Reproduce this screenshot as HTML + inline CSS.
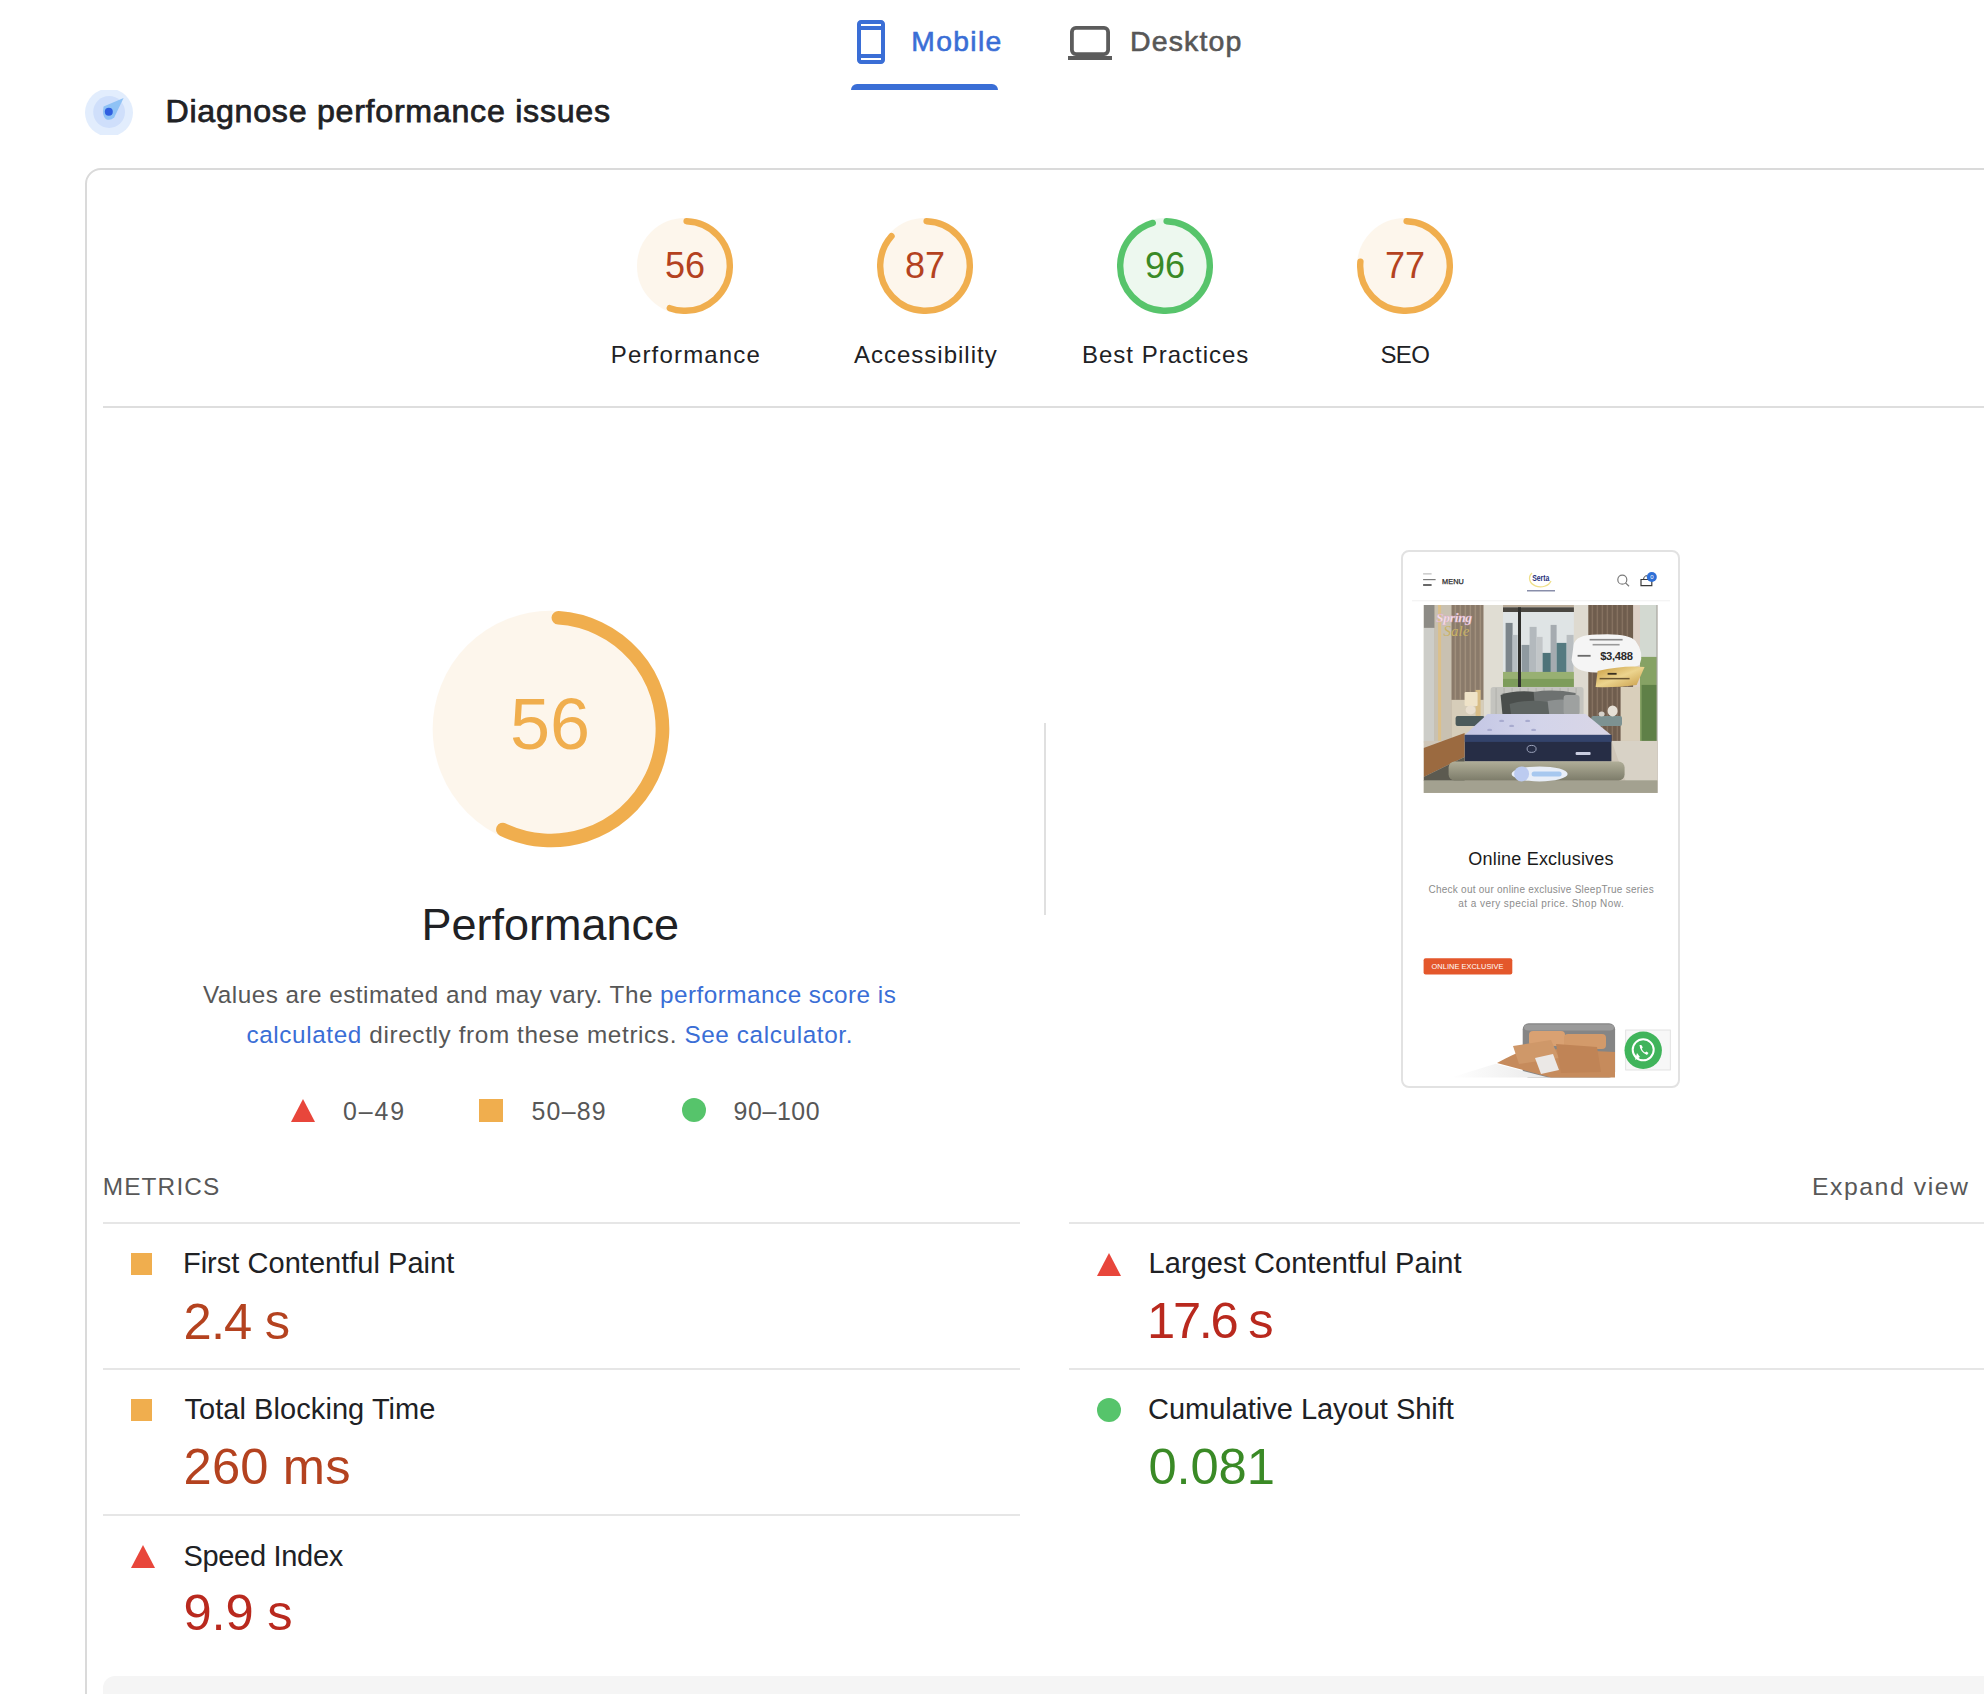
<!DOCTYPE html>
<html><head><meta charset="utf-8">
<style>
*{box-sizing:border-box;margin:0;padding:0}
html,body{width:1984px;height:1694px;overflow:hidden;background:#fff}
body{position:relative;font-family:"Liberation Sans",sans-serif;color:#202124}
.a{position:absolute;white-space:nowrap;line-height:1}
.hr{position:absolute;height:2px;background:#e6e6e6}
.blue{color:#3a6ed6}
.gray{color:#575757}
.avg2{color:#b4421f}
.fail2{color:#b9291e}
.pass2{color:#3a8a26}
.lbl{width:200px;text-align:center;top:342.7px;font-size:24px}
.gn{width:96px;text-align:center;top:247.8px;font-size:36px}
.mt{font-size:29px}
.mv{font-size:50.7px}
</style></head><body>

<!-- Tabs -->
<svg class="a" style="left:847px;top:18px" width="48" height="48" viewBox="0 0 24 24"><path fill="#3a6ed6" d="M17 1.01L7 1c-1.1 0-2 .9-2 2v18c0 1.1.9 2 2 2h10c1.1 0 2-.9 2-2V3c0-1.1-.9-1.99-2-1.99zM17 21H7v-1h10v1zm0-3H7V6h10v12zm0-14H7V3h10v1z"/></svg>
<div class="a blue" style="left:911.3px;top:26.84px;font-size:28.3px;letter-spacing:1.33px;-webkit-text-stroke:0.6px #3a6ed6">Mobile</div>
<div class="a" style="left:851px;top:84px;width:147px;height:6px;background:#3a6ed6;border-radius:6px 6px 0 0"></div>

<svg class="a" style="left:1066px;top:24px" width="48" height="40" viewBox="0 0 48 40"><rect x="5.9" y="3.9" width="36.2" height="26.2" rx="4" fill="none" stroke="#5c5c5c" stroke-width="3.8"/><rect x="2" y="32" width="44" height="4" fill="#5c5c5c"/></svg>
<div class="a gray" style="left:1130.1px;top:26.87px;font-size:28.5px;letter-spacing:1.1px;-webkit-text-stroke:0.6px #575757">Desktop</div>

<!-- Heading -->
<svg class="a" style="left:85px;top:90px" width="48" height="45.3" viewBox="0 0 48 45.3">
<circle cx="24" cy="22.6" r="24" fill="#e2edfd"/>
<circle cx="24.1" cy="22" r="15.9" fill="#cfdffb"/>
<path d="M18.6 16.6 L38.6 8.1 L29.2 27.5 Q 25.5 31 21 29.2 Q 16.5 26 18.6 16.6Z" fill="#8fc2f5"/>
<circle cx="23.8" cy="21.8" r="4" fill="#2f5fe0"/>
</svg>
<div class="a" style="left:165.5px;top:95.4px;font-size:32.2px;letter-spacing:0.72px;-webkit-text-stroke:0.75px #202124">Diagnose performance issues</div>

<!-- Card -->
<div class="a" style="left:85px;top:168px;width:2000px;height:1600px;border:2px solid #dadada;border-radius:16px"></div>

<!-- Gauges small -->
<svg class="a" style="left:637px;top:218px" width="96" height="96" viewBox="0 0 120 120"><circle r="56" cx="60" cy="60" stroke-width="8" fill="#f0ae4e" stroke="#f0ae4e" opacity="0.1"/><circle r="56" cx="60" cy="60" stroke-width="8" fill="none" stroke="#f0ae4e" stroke-linecap="round" style="transform-origin:50% 50%;transform:rotate(-87.95deg);stroke-dasharray:193.04 351.86"/></svg>
<svg class="a" style="left:877px;top:218px" width="96" height="96" viewBox="0 0 120 120"><circle r="56" cx="60" cy="60" stroke-width="8" fill="#f0ae4e" stroke="#f0ae4e" opacity="0.1"/><circle r="56" cx="60" cy="60" stroke-width="8" fill="none" stroke="#f0ae4e" stroke-linecap="round" style="transform-origin:50% 50%;transform:rotate(-87.95deg);stroke-dasharray:302.12 351.86"/></svg>
<svg class="a" style="left:1117px;top:218px" width="96" height="96" viewBox="0 0 120 120"><circle r="56" cx="60" cy="60" stroke-width="8" fill="#57c46b" stroke="#57c46b" opacity="0.1"/><circle r="56" cx="60" cy="60" stroke-width="8" fill="none" stroke="#57c46b" stroke-linecap="round" style="transform-origin:50% 50%;transform:rotate(-87.95deg);stroke-dasharray:333.78 351.86"/></svg>
<svg class="a" style="left:1357px;top:218px" width="96" height="96" viewBox="0 0 120 120"><circle r="56" cx="60" cy="60" stroke-width="8" fill="#f0ae4e" stroke="#f0ae4e" opacity="0.1"/><circle r="56" cx="60" cy="60" stroke-width="8" fill="none" stroke="#f0ae4e" stroke-linecap="round" style="transform-origin:50% 50%;transform:rotate(-87.95deg);stroke-dasharray:266.93 351.86"/></svg>

<div class="a avg2 gn" style="left:637px">56</div>
<div class="a avg2 gn" style="left:877px">87</div>
<div class="a pass2 gn" style="left:1117px">96</div>
<div class="a avg2 gn" style="left:1357px">77</div>

<div class="a lbl" style="left:585.9px;letter-spacing:1.17px">Performance</div>
<div class="a lbl" style="left:825.8px;letter-spacing:1px">Accessibility</div>
<div class="a lbl" style="left:1065.7px;letter-spacing:1.0px">Best Practices</div>
<div class="a lbl" style="left:1304.9px;letter-spacing:-0.6px">SEO</div>

<div class="hr" style="left:103px;top:406px;width:1900px;background:#dedede"></div>

<!-- Big gauge -->
<svg class="a" style="left:431.5px;top:610px" width="238" height="238" viewBox="0 0 120 120"><circle r="56.2" cx="60" cy="60" stroke-width="6.9" fill="#f0ae4e" stroke="#f0ae4e" opacity="0.1"/><circle r="56.2" cx="60" cy="60" stroke-width="6.9" fill="none" stroke="#f0ae4e" stroke-linecap="round" style="transform-origin:50% 50%;transform:rotate(-86.2deg);stroke-dasharray:197.7 353.1"/></svg>
<div class="a" style="left:431px;width:238px;text-align:center;top:687.94px;font-size:72px;color:#f0ae4e">56</div>
<div class="a" style="left:300.2px;width:500px;text-align:center;top:902.3px;font-size:45px">Performance</div>

<div class="a" style="left:1044px;top:723px;width:2px;height:192px;background:#e0e0e0"></div>

<div class="a gray" style="left:203px;top:982.9px;font-size:24.3px;letter-spacing:0.466px">Values are estimated and may vary. The <span class="blue">performance score is</span></div>
<div class="a gray" style="left:246.4px;top:1022.8px;font-size:24.3px;letter-spacing:0.62px"><span class="blue">calculated</span> directly from these metrics. <span class="blue">See calculator.</span></div>

<!-- legend -->
<svg class="a" style="left:291px;top:1098.5px" width="24" height="23" viewBox="0 0 24 23"><path d="M12 0 L24 23 L0 23Z" fill="#e8463b"/></svg>
<div class="a gray" style="left:343px;top:1098.52px;font-size:24.9px;letter-spacing:1.9px">0–49</div>
<div class="a" style="left:479px;top:1098.5px;width:24px;height:23px;background:#f0ae4e"></div>
<div class="a gray" style="left:531.5px;top:1098.52px;font-size:24.9px;letter-spacing:1.25px">50–89</div>
<div class="a" style="left:682px;top:1098px;width:24px;height:24px;border-radius:50%;background:#56c46b"></div>
<div class="a gray" style="left:733.6px;top:1098.52px;font-size:24.9px;letter-spacing:0.6px">90–100</div>

<!-- screenshot thumbnail -->
<svg class="a" style="left:1401px;top:550px" width="279" height="538" viewBox="0 0 279 538">
<defs>
<linearGradient id="wallL" x1="0" x2="1" y1="0" y2="0">
<stop offset="0" stop-color="#b9b2a8"/><stop offset="0.5" stop-color="#a88f78"/><stop offset="1" stop-color="#b79f86"/>
</linearGradient>
<linearGradient id="sky" x1="0" x2="0" y1="0" y2="1">
<stop offset="0" stop-color="#cfd9e0"/><stop offset="1" stop-color="#dfe4e2"/>
</linearGradient>
<linearGradient id="mtop" x1="0" x2="1" y1="0" y2="0">
<stop offset="0" stop-color="#aeb0d4"/><stop offset="0.6" stop-color="#c9c9e2"/><stop offset="1" stop-color="#d8d6e6"/>
</linearGradient>
<linearGradient id="gold" x1="0" x2="1" y1="0" y2="1">
<stop offset="0" stop-color="#e8cf8a"/><stop offset="1" stop-color="#b88d3a"/>
</linearGradient>
<clipPath id="tc"><rect x="1" y="1" width="277" height="536" rx="7"/></clipPath>
</defs>
<rect x="1" y="1" width="277" height="536" rx="7" fill="#fff" stroke="#e2e2e2" stroke-width="2"/>
<g clip-path="url(#tc)">
<!-- header -->
<rect x="22.1" y="23.4" width="8.5" height="1" fill="#b0b0b0"/>
<rect x="22.1" y="29" width="12.5" height="1.2" fill="#7a7a7a"/>
<rect x="22.1" y="34.3" width="8.5" height="1.4" fill="#2a2a2a"/>
<text x="41" y="33.7" font-family="Liberation Sans" font-size="7.3" fill="#2a2a2a" letter-spacing="0.1" stroke="#2a2a2a" stroke-width="0.25">MENU</text>
<path d="M131 23 A 11 8.5 0 1 0 150 31" fill="none" stroke="#efe08a" stroke-width="1.3"/>
<text x="139.8" y="31.2" text-anchor="middle" font-family="Liberation Sans" font-weight="bold" font-size="9.6" fill="#1f2f7a" transform="translate(139.8 0) scale(0.72 1) translate(-139.8 0)">Serta</text>
<rect x="126" y="40.2" width="28" height="1.2" fill="#6d7396"/>
<circle cx="221.3" cy="29.7" r="4.5" fill="none" stroke="#7a7a7a" stroke-width="1.2"/>
<path d="M224.5 32.9 L228 36.3" stroke="#7a7a7a" stroke-width="1.3"/>
<path d="M240 35.6 L240 29.5 L250.8 29.5 L250.8 35.6Z" fill="none" stroke="#3a3a3a" stroke-width="1.2"/>
<path d="M242.5 29.5 Q 243 25.5 246 25.8" fill="none" stroke="#3a3a3a" stroke-width="1"/>
<circle cx="250.8" cy="27" r="5" fill="#2f6fd6"/>
<text x="250.8" y="29.3" text-anchor="middle" font-family="Liberation Sans" font-size="6" fill="#fff">0</text>
<rect x="11" y="50.3" width="258" height="1" fill="#f0f0f0"/>

<!-- hero image -->
<svg x="22.6" y="54.9" width="234" height="188" viewBox="0 0 234 188" preserveAspectRatio="none">
<defs>
<linearGradient id="g2" x1="0" x2="1" y1="0" y2="1"><stop offset="0" stop-color="#c99a3c"/><stop offset="0.5" stop-color="#ecd48e"/><stop offset="1" stop-color="#c79a45"/></linearGradient>
<linearGradient id="mt2" x1="0" x2="1" y1="0" y2="0"><stop offset="0" stop-color="#c3c6e4"/><stop offset="0.5" stop-color="#d3d4ea"/><stop offset="1" stop-color="#d9d6e6"/></linearGradient>
<linearGradient id="base2" x1="0" x2="0" y1="0" y2="1"><stop offset="0" stop-color="#b0ae98"/><stop offset="1" stop-color="#7d7c6a"/></linearGradient>
</defs>
<rect width="234" height="188" fill="#b9ab98"/>
<!-- left wall -->
<rect x="0" y="0" width="11" height="23" fill="#8d8b85"/>
<rect x="0" y="23" width="11" height="115" fill="#cdcdc8"/>
<rect x="11" y="0" width="17" height="140" fill="#c9c1b1"/>
<rect x="14.5" y="0" width="3" height="140" fill="#dcc08a"/>
<rect x="28" y="0" width="32" height="95" fill="#8a7a6a"/>
<g fill="#a08f7c"><rect x="31" y="0" width="1.5" height="95"/><rect x="36" y="0" width="1.5" height="95"/><rect x="41" y="0" width="1.5" height="95"/><rect x="46" y="0" width="1.5" height="95"/><rect x="51" y="0" width="1.5" height="95"/><rect x="56" y="0" width="1.5" height="95"/></g>
<rect x="28" y="95" width="32" height="45" fill="#d6cdb9"/>
<rect x="52" y="85" width="5" height="55" fill="#d8bd86"/>
<rect x="60" y="0" width="19.4" height="140" fill="#e0ddd3"/>
<!-- window -->
<rect x="79.4" y="2.4" width="71" height="80" fill="#dfe4e5"/>
<rect x="79.4" y="2.4" width="71" height="4.7" fill="#4a4741"/>
<rect x="82" y="18" width="7" height="55" fill="#7c858b"/>
<rect x="89" y="30" width="5" height="43" fill="#b7bec2"/>
<rect x="98" y="40" width="8" height="33" fill="#8f9aa0"/>
<rect x="106" y="22" width="7" height="51" fill="#b3b9bd"/>
<rect x="113" y="32" width="6" height="41" fill="#c2c6c8"/>
<rect x="119" y="48" width="11" height="25" fill="#4e7379"/>
<rect x="127" y="20" width="6" height="53" fill="#a5abb0"/>
<rect x="133" y="38" width="10" height="35" fill="#557a80"/>
<rect x="143" y="30" width="7" height="43" fill="#b9bec1"/>
<rect x="79.4" y="67" width="71" height="15" fill="#98b072"/>
<rect x="79.4" y="74" width="71" height="8" fill="#7d9c5a"/>
<rect x="94.4" y="2.4" width="3" height="80" fill="#2f2f2c"/>
<rect x="150.3" y="0" width="14.5" height="140" fill="#dedad0"/>
<!-- right wall -->
<rect x="164.8" y="0" width="44.8" height="140" fill="#6f5d4d"/>
<g fill="#85715f"><rect x="168" y="0" width="1.5" height="140"/><rect x="173" y="0" width="1.5" height="140"/><rect x="178" y="0" width="1.5" height="140"/><rect x="183" y="0" width="1.5" height="140"/><rect x="188" y="0" width="1.5" height="140"/><rect x="193" y="0" width="1.5" height="140"/><rect x="198" y="0" width="1.5" height="140"/><rect x="203" y="0" width="1.5" height="140"/></g>
<rect x="209.6" y="0" width="6.8" height="140" fill="#ddd0c6"/>
<rect x="216.4" y="0" width="16.8" height="140" fill="#d3d9d1"/>
<rect x="216.4" y="52" width="16.8" height="94" fill="#86a264"/>
<rect x="218" y="80" width="15" height="66" fill="#5f8047"/>
<rect x="197" y="82" width="19.4" height="58" fill="#d9cfbb"/>
<rect x="233" y="0" width="1" height="188" fill="#9a9a98"/>
<!-- cloud -->
<path d="M150 40 Q 152 29 175 29.5 Q 205 28 212 36 Q 221 48 216 60 Q 200 68 172 67.5 Q 150 67 148 55Z" fill="#f5f5f5"/>
<rect x="166" y="34" width="33" height="1.6" fill="#8a8a8a"/>
<rect x="169" y="39" width="27" height="1.6" fill="#9a9a9a"/>
<rect x="154" y="50" width="13" height="1.8" fill="#6a6a6a"/>
<text x="176.6" y="55" font-family="Liberation Sans" font-weight="bold" font-size="11.2" fill="#2a2a2a" letter-spacing="-0.3">$3,488</text>
<path d="M174 66 Q 200 60 221 62 L 213 80 Q 190 83 172 82Z" fill="url(#g2)"/>
<rect x="184" y="68" width="9" height="1.8" fill="#3a3020"/>
<rect x="176" y="73" width="30" height="1.5" fill="#6a5530"/>
<!-- spring sale -->
<text x="12.5" y="17" font-family="Liberation Serif" font-style="italic" font-weight="bold" font-size="13.5" fill="#f6e0ec" stroke="#d9a9c4" stroke-width="0.3" letter-spacing="-0.3">Spring</text>
<text x="20" y="31.5" font-family="Liberation Serif" font-style="italic" font-size="15" fill="#c9b265">Sale</text>
<!-- headboard -->
<rect x="67" y="82" width="93" height="30" rx="3" fill="#c4c4bf"/>
<g fill="#b0b0ab"><rect x="72" y="83" width="1" height="28"/><rect x="80" y="83" width="1" height="28"/><rect x="88" y="83" width="1" height="28"/><rect x="96" y="83" width="1" height="28"/><rect x="104" y="83" width="1" height="28"/><rect x="112" y="83" width="1" height="28"/><rect x="120" y="83" width="1" height="28"/><rect x="128" y="83" width="1" height="28"/><rect x="136" y="83" width="1" height="28"/><rect x="144" y="83" width="1" height="28"/><rect x="152" y="83" width="1" height="28"/></g>
<!-- pillows -->
<path d="M77 90 Q 90 85 112 87 L 113 111 L 79 111Z" fill="#4a4e4c"/>
<path d="M110 87 Q 130 84 152 88 L 152 111 L 112 111Z" fill="#6d7170"/>
<path d="M86 99 Q 104 94 124 97 L 126 113 L 88 113Z" fill="#5e6462"/>
<path d="M124 96 Q 138 93 150 96 L 150 112 L 126 112Z" fill="#8c9090"/>
<rect x="140" y="90" width="16" height="20" rx="3" fill="#9ea1a0"/>
<!-- lamp/nightstands -->
<rect x="41" y="87" width="13" height="14" rx="1" fill="#efe3c8"/>
<ellipse cx="47" cy="105" rx="5" ry="4.5" fill="#e9dfcf"/>
<rect x="32" y="111" width="29" height="10" rx="2" fill="#4b5a5a"/>
<rect x="167.7" y="111" width="30.7" height="10" rx="2" fill="#7d9292"/>
<ellipse cx="189" cy="106" rx="5" ry="5.5" fill="#e6e0d6"/>
<ellipse cx="178" cy="109" rx="3" ry="2.5" fill="#d6d2ca"/>
<!-- floor -->
<rect x="0" y="136" width="234" height="52" fill="#cfc6b8"/>
<path d="M0 143 L 41 128 L 41 152 L 0 172Z" fill="#9b6a40"/>
<path d="M0 172 L 41 152 L 41 176 L 0 176Z" fill="#5c5a50"/>
<path d="M188 136 L 234 136 L 234 176 L 202 176Z" fill="#d8d2c6"/>
<rect x="0" y="175.4" width="234" height="12.6" fill="#a3a190"/>
<!-- mattress -->
<path d="M64 109 L 162 109 L 187.5 130 L 41.2 130Z" fill="url(#mt2)"/>
<g fill="#a8abcf"><ellipse cx="66" cy="125" rx="2.5" ry="1.2"/><ellipse cx="88" cy="121" rx="2.5" ry="1.2"/><ellipse cx="110" cy="125" rx="2.5" ry="1.2"/><ellipse cx="78" cy="116" rx="2.5" ry="1.2"/><ellipse cx="104" cy="116" rx="2.5" ry="1.2"/></g>
<rect x="41.2" y="130" width="146.6" height="26.5" fill="#262d45"/>
<rect x="41.2" y="130" width="146.6" height="7" fill="#33436b"/>
<ellipse cx="108" cy="144" rx="4.5" ry="3.5" fill="none" stroke="#a8b0c8" stroke-width="0.9"/>
<rect x="152" y="147" width="15" height="3" rx="1" fill="#c9cde0"/>
<rect x="25" y="156.5" width="176" height="19" rx="6" fill="url(#base2)"/>
<ellipse cx="116" cy="169" rx="28" ry="7.5" fill="#e8eef8"/>
<circle cx="98" cy="169" r="7.5" fill="#bccbf0"/>
<rect x="108" y="166.5" width="30" height="5" rx="2.5" fill="#a7c8ef"/>
</svg>

<!-- online exclusives -->
<text x="140" y="315.4" text-anchor="middle" font-family="Liberation Sans" font-size="18" fill="#1a1a1a" letter-spacing="0.2">Online Exclusives</text>
<text x="140.2" y="343.2" text-anchor="middle" font-family="Liberation Sans" font-size="10" fill="#8c8c8c" letter-spacing="0.25">Check out our online exclusive SleepTrue series</text>
<text x="140.2" y="357" text-anchor="middle" font-family="Liberation Sans" font-size="10" fill="#8c8c8c" letter-spacing="0.45">at a very special price. Shop Now.</text>
<rect x="22.6" y="408.3" width="88.7" height="16.3" rx="2" fill="#e4572b"/>
<text x="66.5" y="419.3" text-anchor="middle" font-family="Liberation Sans" font-size="7.4" fill="#fff" letter-spacing="0.05">ONLINE EXCLUSIVE</text>

<!-- bottom bed image -->
<defs><linearGradient id="sheet" x1="0" x2="1" y1="0" y2="0"><stop offset="0" stop-color="#ffffff"/><stop offset="1" stop-color="#e9e9e9"/></linearGradient></defs>
<rect x="121.7" y="473.2" width="92.4" height="54.2" rx="6" fill="#858585"/>
<rect x="123" y="474.5" width="90" height="6" rx="4" fill="#9b9b9b"/>
<path d="M96 513 Q 110 505 128 498 L 214 502 L 214 527.5 L 150 527.5 Z" fill="#c68b5c"/>
<path d="M50 527.6 L 94.6 513.8 L 147.5 527.6Z" fill="url(#sheet)"/>
<rect x="128" y="481" width="36" height="15" rx="4" fill="#d9a172"/>
<rect x="163" y="484" width="42" height="15" rx="4" fill="#d39a6a"/>
<path d="M112 496 L 150 490 L 158 508 L 118 514Z" fill="#cf9869"/>
<path d="M155 494 L 196 497 L 200 522 L 160 523Z" fill="#c08456"/>
<path d="M134 508 L 152 504 L 158 520 L 140 524Z" fill="#ebe8e6"/>
<rect x="224.7" y="480" width="44.6" height="40" fill="#f7f7f7" stroke="#dcdcdc" stroke-width="0.8"/>
<circle cx="242.2" cy="500.3" r="18.7" fill="#40b45b"/>
<circle cx="242.2" cy="499.8" r="10.5" fill="none" stroke="#fff" stroke-width="2"/>
<path d="M234 510 L 236 503 L 239 507Z" fill="#fff"/>
<path d="M238.5 495 Q 239 502 246 505 L 247.5 503 L 245.5 501.5 L 244 502.5 Q 241.5 501 240.8 498.7 L 241.8 497.2 L 240.3 495Z" fill="#fff"/>
</g>
</svg>

<!-- Metrics -->
<div class="a" style="color:#585858;left:102.7px;top:1175px;font-size:24.4px;letter-spacing:1.15px">METRICS</div>
<div class="a" style="color:#585858;left:1811.9px;top:1174.8px;font-size:24.8px;letter-spacing:1.55px">Expand view</div>

<div class="hr" style="left:103px;top:1222px;width:917px"></div>
<div class="hr" style="left:1069px;top:1222px;width:930px"></div>
<div class="hr" style="left:103px;top:1368px;width:917px"></div>
<div class="hr" style="left:1069px;top:1368px;width:930px"></div>
<div class="hr" style="left:103px;top:1514px;width:917px"></div>

<div class="a" style="left:131px;top:1253px;width:21px;height:22px;background:#f0ae4e"></div>
<div class="a mt" style="left:182.9px;top:1249.35px;letter-spacing:0.03px">First Contentful Paint</div>
<div class="a avg2 mv" style="left:183.6px;top:1296.77px;letter-spacing:-0.875px">2.4 s</div>

<div class="a" style="left:131px;top:1399px;width:21px;height:22px;background:#f0ae4e"></div>
<div class="a mt" style="left:184.4px;top:1395.25px;letter-spacing:0.07px">Total Blocking Time</div>
<div class="a avg2 mv" style="left:183.6px;top:1442.27px;letter-spacing:0.14px">260 ms</div>

<svg class="a" style="left:131px;top:1544.5px" width="24" height="23" viewBox="0 0 24 23"><path d="M12 0 L24 23 L0 23Z" fill="#e8463b"/></svg>
<div class="a mt" style="left:183.4px;top:1541.65px;letter-spacing:-0.3px">Speed Index</div>
<div class="a fail2 mv" style="left:183.6px;top:1588.47px;letter-spacing:-0.2px">9.9 s</div>

<svg class="a" style="left:1097.3px;top:1252.7px" width="24" height="23" viewBox="0 0 24 23"><path d="M12 0 L24 23 L0 23Z" fill="#e8463b"/></svg>
<div class="a mt" style="left:1148.5px;top:1249.35px;letter-spacing:0.08px">Largest Contentful Paint</div>
<div class="a fail2 mv" style="left:1147.1px;top:1296.27px;letter-spacing:-2.32px">17.6 s</div>

<div class="a" style="left:1097px;top:1398.4px;width:24px;height:24px;border-radius:50%;background:#56c46b"></div>
<div class="a mt" style="left:1148px;top:1395.25px;letter-spacing:-0.02px">Cumulative Layout Shift</div>
<div class="a pass2 mv" style="left:1148.4px;top:1442.27px;letter-spacing:-0.1px">0.081</div>

<div class="a" style="left:103px;top:1676px;width:1900px;height:40px;background:#f5f5f5;border-radius:12px 0 0 0"></div>

</body></html>
